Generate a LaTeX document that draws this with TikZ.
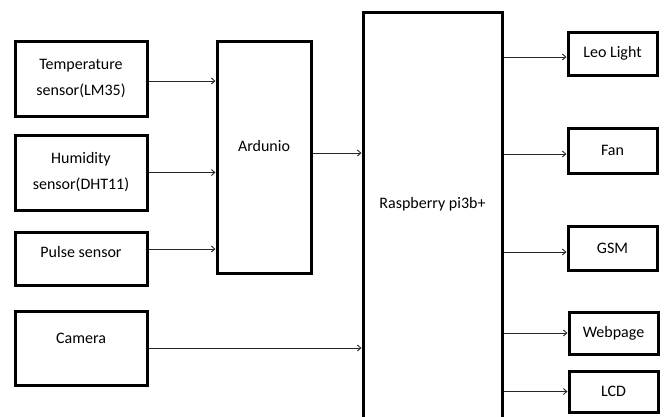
\documentclass[tikz,border=0pt]{standalone}
\usepackage{fontspec}
\setmainfont{Carlito}
\usetikzlibrary{positioning,calc}
\usetikzlibrary{arrows.meta}
\tikzset{
	blk/.style={draw=black,line width=3pt,fill=white,align=center,
		font=\fontsize{16}{26}\selectfont,inner sep=0pt},
	lift/.style={text height=12pt,text depth=12pt+2*#1},
	link/.style={draw=black!85,line width=0.9pt,-{Straight Barb[length=3.5pt,width=6pt]}},
}

\begin{document}
\begin{tikzpicture}[x=1pt,y=-1pt]
	\useasboundingbox[fill=white] (0,0) rectangle (664,416);
	\clip (0,0) rectangle (664,416);
	% sensors
	\node[blk,minimum width=132pt,minimum height=75pt] (temp) at (81,78.5) {Temperature\\sensor(LM35)};
	\node[blk,minimum width=132pt,minimum height=75pt] (hum) at (81,172.5) {Humidity\\sensor(DHT11)};
	\node[blk,minimum width=132pt,minimum height=53pt,lift=1pt] (pulse) at (81,258.5) {Pulse sensor};
	\node[blk,minimum width=132pt,minimum height=74pt,lift=5pt] (cam) at (81,348) {Camera};
	% controllers
	\node[blk,minimum width=94pt,minimum height=232pt,lift=6pt] (ard) at (264,157) {Ardunio};
	\node[blk,minimum width=139pt,minimum height=428pt,lift=18pt] (pi) at (432.5,226) {Raspberry pi3b+};
	% outputs
	\node[blk,minimum width=89pt,minimum height=43pt] (leo) at (612.5,53.5) {Leo Light};
	\node[blk,minimum width=89pt,minimum height=45pt] (fan) at (612.5,150.5) {Fan};
	\node[blk,minimum width=89pt,minimum height=44pt] (gsm) at (612.5,248) {GSM};
	\node[blk,minimum width=89pt,minimum height=42pt] (web) at (613.5,333) {Webpage};
	\node[blk,minimum width=89pt,minimum height=41pt] (lcd) at (613.5,391.5) {LCD};
	% links
	\foreach \a/\b/\y in {temp/ard/-2.5,hum/ard/0,pulse/ard/9.5,cam/pi/0,ard/pi/4}
	\draw[link] ([yshift=\y pt]\a.east) -- ([yshift=\y pt]\a.east -| \b.west);
	\foreach \b/\y in {leo/-3.5,fan/-3.5,gsm/-4,web/0,lcd/0}
	\draw[link] ([yshift=\y pt]\b.west -| pi.east) -- ([yshift=\y pt]\b.west);
\end{tikzpicture}
\end{document}
